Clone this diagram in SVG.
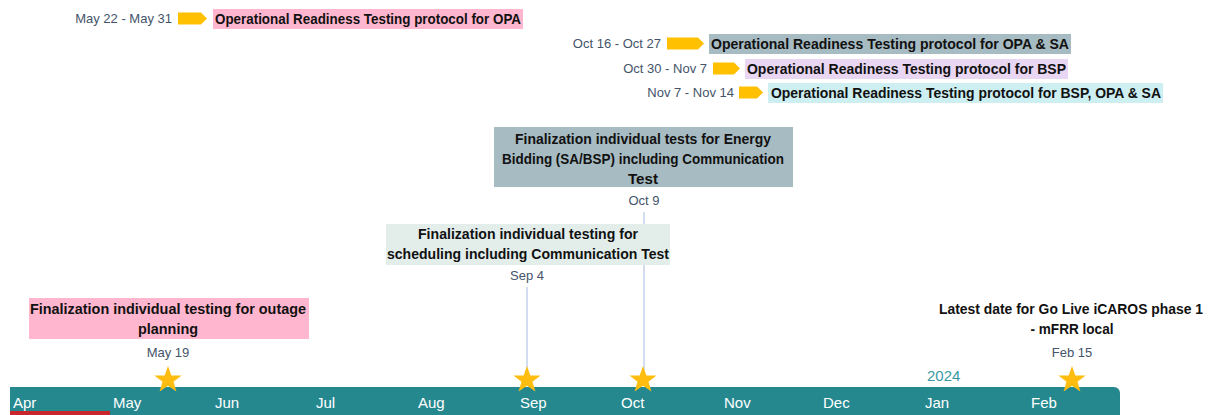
<svg xmlns="http://www.w3.org/2000/svg" width="1213" height="415" viewBox="0 0 1213 415">
<style>
.lbl{font-family:"Liberation Sans",Arial,sans-serif;font-weight:bold;font-size:15px;fill:#111}
.date{font-family:"Liberation Sans",Arial,sans-serif;font-size:13px;fill:#44546A}
.mon{font-family:"Liberation Sans",Arial,sans-serif;font-size:15px;fill:#fff}
.arrow{fill:#FFC000}
.star{fill:#FFBE0F}
.conn{stroke:#B4C7E7;stroke-width:1.2;fill:none}
</style>
<defs>
<polygon id="star" points="0,-14 3.4,-4.6 13.6,-4.4 5.5,1.8 8.4,11.5 0,5.7 -8.4,11.5 -5.5,1.8 -13.6,-4.4 -3.4,-4.6"/>
</defs>
<g id="connectors">
<line class="conn" x1="527" y1="287" x2="527" y2="372"/>
<line class="conn" x1="644" y1="212" x2="644" y2="372"/>
</g>
<g id="timeline">
<path d="M10,387 H1114 a6,6 0 0 1 6,6 V415 H10 Z" fill="#26888F"/>
<rect x="10" y="411" width="100" height="4" fill="#C9252C"/>
<text class="mon" x="13" y="408">Apr</text>
<text class="mon" x="113" y="408">May</text>
<text class="mon" x="215" y="408">Jun</text>
<text class="mon" x="316" y="408">Jul</text>
<text class="mon" x="418" y="408">Aug</text>
<text class="mon" x="520" y="408">Sep</text>
<text class="mon" x="621" y="408">Oct</text>
<text class="mon" x="724" y="408">Nov</text>
<text class="mon" x="823" y="408">Dec</text>
<text class="mon" x="925" y="408">Jan</text>
<text class="mon" x="1031" y="408">Feb</text>
<text x="927" y="381" style="font-family:'Liberation Sans',Arial,sans-serif;font-size:15px;fill:#3A9AA3">2024</text>
</g>
<g id="task1">
<text class="date" x="172" y="23" text-anchor="end">May 22 - May 31</text>
<polygon class="arrow" points="178,12.5 201,12.5 207,18.5 201,24.5 178,24.5"/>
<rect x="213" y="9" width="310" height="20" fill="#FFB6CE"/>
<text class="lbl" x="215" y="24" textLength="306" lengthAdjust="spacingAndGlyphs">Operational Readiness Testing protocol for OPA</text>
</g>
<g id="task2">
<text class="date" x="661" y="48" text-anchor="end">Oct 16 - Oct 27</text>
<polygon class="arrow" points="667,37.5 698,37.5 704,43.5 698,49.5 667,49.5"/>
<rect x="709" y="34" width="362" height="20" fill="#A7BBC2"/>
<text class="lbl" x="711" y="49" textLength="358" lengthAdjust="spacingAndGlyphs">Operational Readiness Testing protocol for OPA &amp; SA</text>
</g>
<g id="task3">
<text class="date" x="707" y="73" text-anchor="end">Oct 30 - Nov 7</text>
<polygon class="arrow" points="713,62.5 734,62.5 740,68.5 734,74.5 713,74.5"/>
<rect x="745" y="59" width="323" height="20" fill="#E8D6F2"/>
<text class="lbl" x="747" y="74" textLength="319" lengthAdjust="spacingAndGlyphs">Operational Readiness Testing protocol for BSP</text>
</g>
<g id="task4">
<text class="date" x="734" y="97" text-anchor="end">Nov 7 - Nov 14</text>
<polygon class="arrow" points="739,86.5 757,86.5 763,92.5 757,98.5 739,98.5"/>
<rect x="768" y="83" width="395" height="20" fill="#CDEFF2"/>
<text class="lbl" x="771" y="98" textLength="390" lengthAdjust="spacingAndGlyphs">Operational Readiness Testing protocol for BSP, OPA &amp; SA</text>
</g>
<g id="ms-energy">
<rect x="494" y="127" width="299" height="60" fill="#A7BBC2"/>
<text class="lbl" x="643" y="144" text-anchor="middle" textLength="256" lengthAdjust="spacingAndGlyphs">Finalization individual tests for Energy</text>
<text class="lbl" x="643" y="164" text-anchor="middle" textLength="282" lengthAdjust="spacingAndGlyphs">Bidding (SA/BSP) including Communication</text>
<text class="lbl" x="643" y="184" text-anchor="middle" textLength="30" lengthAdjust="spacingAndGlyphs">Test</text>
<text class="date" x="644" y="205" text-anchor="middle">Oct 9</text>
<use href="#star" class="star" x="643" y="380"/>
</g>
<g id="ms-scheduling">
<rect x="386" y="224" width="284" height="41" fill="#E3EEEB"/>
<text class="lbl" x="528" y="239" text-anchor="middle" textLength="220" lengthAdjust="spacingAndGlyphs">Finalization individual testing for</text>
<text class="lbl" x="528" y="259" text-anchor="middle" textLength="282" lengthAdjust="spacingAndGlyphs">scheduling including Communication Test</text>
<text class="date" x="527" y="280" text-anchor="middle">Sep 4</text>
<use href="#star" class="star" x="527" y="380"/>
</g>
<g id="ms-outage">
<rect x="29" y="298" width="280" height="41" fill="#FFB6CE"/>
<text class="lbl" x="168" y="314" text-anchor="middle" textLength="276" lengthAdjust="spacingAndGlyphs">Finalization individual testing for outage</text>
<text class="lbl" x="168" y="334" text-anchor="middle" textLength="60" lengthAdjust="spacingAndGlyphs">planning</text>
<text class="date" x="168" y="357" text-anchor="middle">May 19</text>
<use href="#star" class="star" x="168" y="380"/>
</g>
<g id="ms-golive">
<text class="lbl" x="1071" y="314" text-anchor="middle" textLength="264" lengthAdjust="spacingAndGlyphs" style="font-size:14px">Latest date for Go Live iCAROS phase 1</text>
<text class="lbl" x="1072" y="334" text-anchor="middle" textLength="83" lengthAdjust="spacingAndGlyphs">- mFRR local</text>
<text class="date" x="1072" y="357" text-anchor="middle">Feb 15</text>
<use href="#star" class="star" x="1072" y="380"/>
</g>
</svg>
